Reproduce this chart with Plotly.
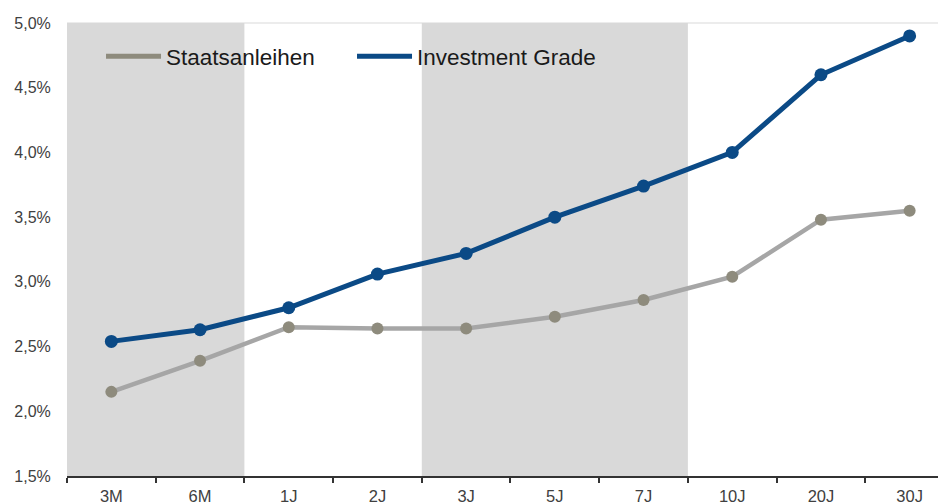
import plotly.graph_objects as go

categories = ["3M", "6M", "1J", "2J", "3J", "5J", "7J", "10J", "20J", "30J"]
staatsanleihen = [2.15, 2.39, 2.65, 2.64, 2.64, 2.73, 2.86, 3.04, 3.48, 3.55]
investment_grade = [2.54, 2.63, 2.80, 3.06, 3.22, 3.50, 3.74, 4.00, 4.60, 4.90]
y_ticks = [1.5, 2.0, 2.5, 3.0, 3.5, 4.0, 4.5, 5.0]
y_tick_labels = ["1,5%", "2,0%", "2,5%", "3,0%", "3,5%", "4,0%", "4,5%", "5,0%"]
shaded_ranges = [("3M", "6M"), ("3J", "7J")]

GREY_LINE = "#A6A6A6"
GREY_MARK = "#8E8B7D"
BLUE = "#0B4A86"
FONT = "Liberation Sans, Arial, sans-serif"

fig = go.Figure()

# series
fig.add_trace(go.Scatter(
    x=categories, y=staatsanleihen, mode="lines+markers", showlegend=False,
    line=dict(color=GREY_LINE, width=4.5),
    marker=dict(color=GREY_MARK, size=12),
))
fig.add_trace(go.Scatter(
    x=categories, y=investment_grade, mode="lines+markers", showlegend=False,
    line=dict(color=BLUE, width=5),
    marker=dict(color=BLUE, size=13),
))
# legend entries (line only)
fig.add_trace(go.Scatter(x=[None], y=[None], mode="lines", name="Staatsanleihen",
                         line=dict(color=GREY_MARK, width=5)))
fig.add_trace(go.Scatter(x=[None], y=[None], mode="lines", name="Investment Grade",
                         line=dict(color=BLUE, width=5)))

shapes = []
for a, b in shaded_ranges:
    i0 = categories.index(a) - 0.5
    i1 = categories.index(b) + 0.5
    shapes.append(dict(type="rect", xref="x", yref="paper", x0=i0, x1=i1, y0=0, y1=1,
                       fillcolor="#D9D9D9", line=dict(width=0), layer="below"))
shapes.append(dict(type="line", xref="paper", yref="paper", x0=0, x1=1, y0=1, y1=1,
                   line=dict(color="#D9D9D9", width=1), layer="below"))

# page body has an 8px margin, so the figure is sized 938x496
fig.update_layout(
    width=938, height=496,
    margin=dict(l=59, r=0, t=15, b=28, autoexpand=False),
    paper_bgcolor="white", plot_bgcolor="white",
    font=dict(family=FONT, color="#404040", size=16),
    shapes=shapes,
    legend=dict(orientation="h", x=0.0387, y=0.9735, xanchor="left", yanchor="top",
                bgcolor="rgba(0,0,0,0)", font=dict(size=22.5, color="#1A1A1A"),
                itemwidth=55, entrywidth=181, entrywidthmode="pixels"),
    xaxis=dict(
        type="category", categoryorder="array", categoryarray=categories,
        range=[-0.5, 9.41], showgrid=False, zeroline=False, automargin=False,
        showline=True, linecolor="#333333", linewidth=2,
        ticks="outside", tickson="boundaries", ticklen=5, tickwidth=2, tickcolor="#333333",
        ticklabelstandoff=4,
        tickfont=dict(size=16.5, color="#404040"),
    ),
    yaxis=dict(
        range=[1.5, 5.0], tickvals=y_ticks, ticktext=y_tick_labels,
        showgrid=False, zeroline=False, showline=False, automargin=False,
        ticks="outside", ticklen=12, tickcolor="rgba(0,0,0,0)",
        tickfont=dict(size=16, color="#404040"),
    ),
)

fig.write_html("out.html")
